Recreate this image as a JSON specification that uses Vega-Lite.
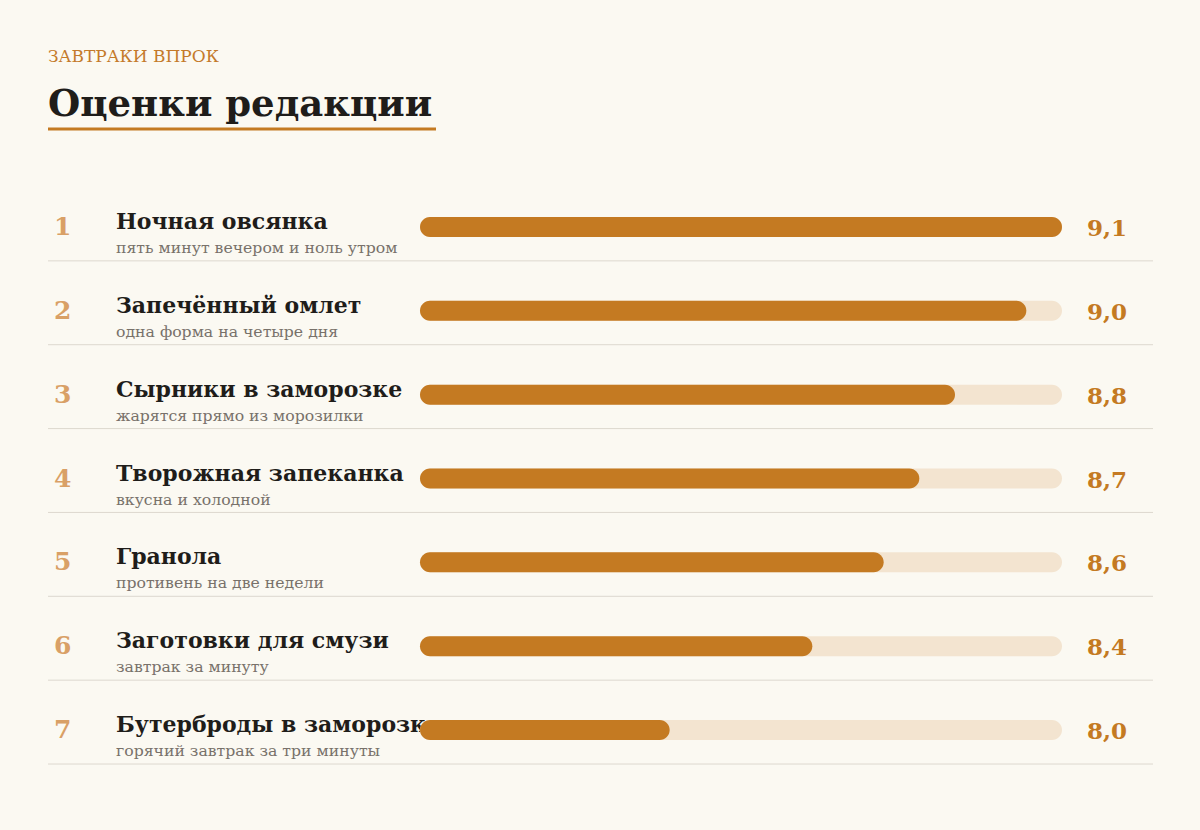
{
  "$schema": "https://vega.github.io/schema/vega-lite/v6.json",
  "width": 1200,
  "height": 830,
  "autosize": {"type": "fit", "contains": "padding"},
  "padding": {"left": 46, "right": 46, "top": 47, "bottom": 58},
  "background": "#fbf9f2",
  "title": {
    "text": "ЗАВТРАКИ ВПРОК",
    "subtitle": "Оценки редакции",
    "anchor": "start",
    "frame": "group",
    "font": "DejaVu Serif",
    "fontSize": 17,
    "fontWeight": "normal",
    "color": "#c47a2a",
    "subtitleFont": "DejaVu Serif",
    "subtitleFontSize": 37,
    "subtitleFontWeight": "bold",
    "subtitleColor": "#1f1d1a",
    "subtitlePadding": 21,
    "offset": 4
  },
  "config": {
    "view": {"stroke": null},
    "locale": {"number": {"decimal": ",", "thousands": " ", "grouping": [3], "currency": ["", " ₽"]}}
  },
  "data": {
    "values": [
      {"rank": 1, "name": "Ночная овсянка", "note": "пять минут вечером и ноль утром", "score": 9.1},
      {"rank": 2, "name": "Запечённый омлет", "note": "одна форма на четыре дня", "score": 9.0},
      {"rank": 3, "name": "Сырники в заморозке", "note": "жарятся прямо из морозилки", "score": 8.8},
      {"rank": 4, "name": "Творожная запеканка", "note": "вкусна и холодной", "score": 8.7},
      {"rank": 5, "name": "Гранола", "note": "противень на две недели", "score": 8.6},
      {"rank": 6, "name": "Заготовки для смузи", "note": "завтрак за минуту", "score": 8.4},
      {"rank": 7, "name": "Бутерброды в заморозке", "note": "горячий завтрак за три минуты", "score": 8.0}
    ]
  },
  "encoding": {
    "y": {"field": "rank", "type": "ordinal", "axis": null,
          "scale": {"paddingInner": 0, "paddingOuter": 0}}
  },
  "layer": [
    {
      "mark": {"type": "rule", "color": "#ddd8cf", "strokeWidth": 1},
      "encoding": {"y": {"field": "rank", "type": "ordinal", "bandPosition": 0.9048}}
    },
    {
      "mark": {"type": "text", "font": "DejaVu Serif", "fontWeight": "bold", "fontSize": 25, "color": "#d9a066", "align": "left", "baseline": "alphabetic", "dy": 8, "x": 6},
      "encoding": {"text": {"field": "rank", "type": "nominal"}}
    },
    {
      "mark": {"type": "text", "font": "DejaVu Serif", "fontWeight": "bold", "fontSize": 22, "color": "#1f1d1a", "align": "left", "baseline": "alphabetic", "dy": 2, "x": 68},
      "encoding": {"text": {"field": "name", "type": "nominal"}}
    },
    {
      "mark": {"type": "text", "font": "DejaVu Serif", "fontSize": 15.7, "color": "#78716a", "align": "left", "baseline": "alphabetic", "dy": 26, "x": 68},
      "encoding": {"text": {"field": "note", "type": "nominal"}}
    },
    {
      "mark": {"type": "bar", "color": "#f3e4d0", "height": 20, "cornerRadius": 10},
      "encoding": {
        "x": {"datum": 9.1, "type": "quantitative", "axis": null,
              "scale": {"domain": [7.3, 9.1], "range": [372, 1014], "zero": false, "nice": false}},
        "x2": {"datum": 7.3, "type": "quantitative"}
      }
    },
    {
      "mark": {"type": "bar", "color": "#c47a22", "height": 20, "cornerRadius": 10},
      "encoding": {
        "x": {"field": "score", "type": "quantitative"},
        "x2": {"datum": 7.3, "type": "quantitative"}
      }
    },
    {
      "mark": {"type": "text", "font": "DejaVu Serif", "fontWeight": "bold", "fontSize": 23, "color": "#c47a22", "align": "left", "baseline": "alphabetic", "dy": 9, "dx": 25},
      "encoding": {
        "x": {"datum": 9.1, "type": "quantitative"},
        "text": {"field": "score", "type": "quantitative", "format": ".1f"}
      }
    },
    {
      "data": {"values": [{}]},
      "mark": {"type": "rule", "color": "#c47a22", "strokeWidth": 3},
      "encoding": {"x": {"value": 0}, "x2": {"value": 388}, "y": {"value": -56}}
    }
  ]
}
